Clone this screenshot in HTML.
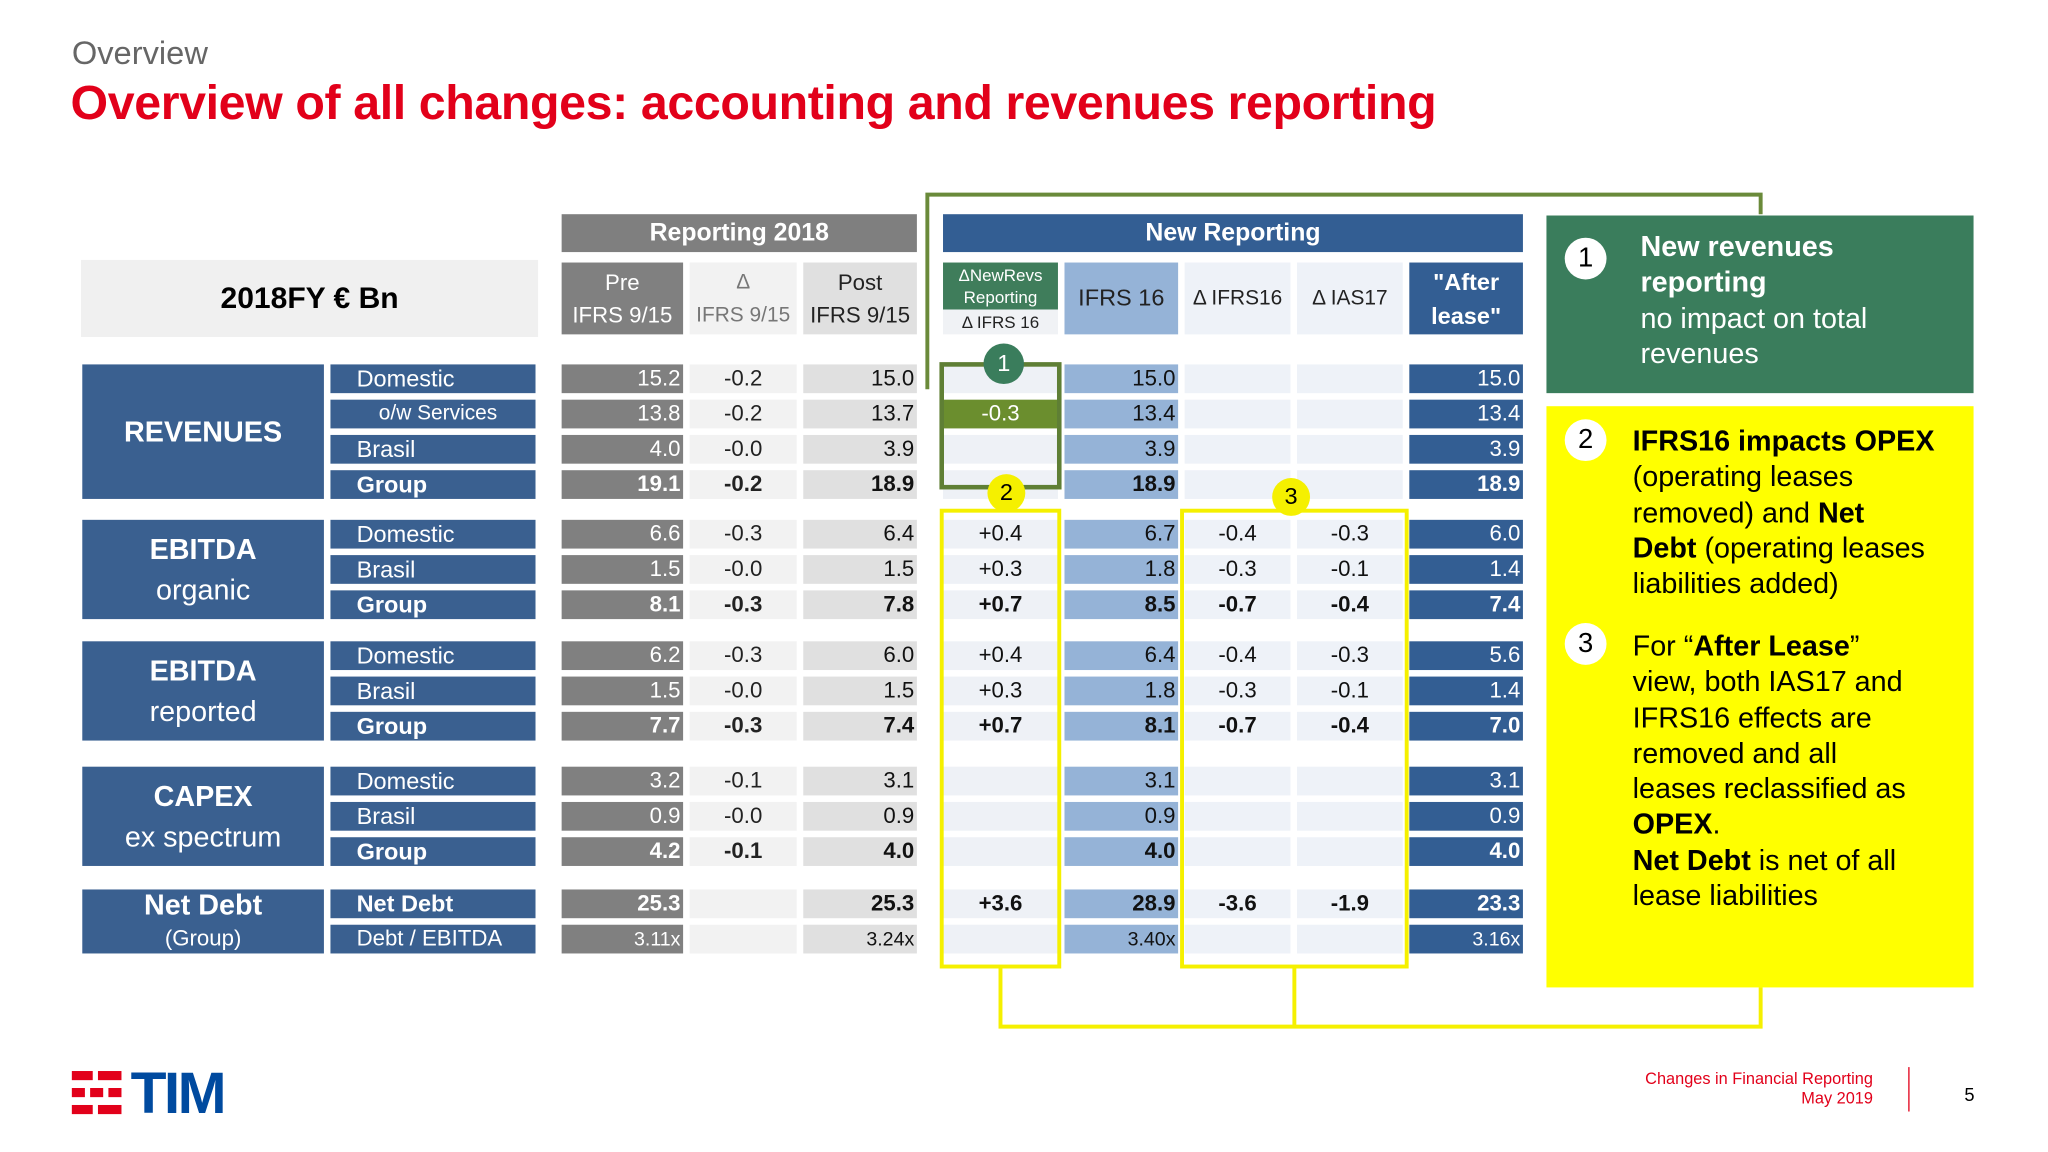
<!DOCTYPE html>
<html><head><meta charset="utf-8">
<style>
html,body{margin:0;padding:0;background:#fff;}
#root{position:relative;width:2048px;height:1152px;overflow:hidden;background:#fff;}
#s{position:absolute;left:0;top:0;width:1568px;height:882px;transform:scale(1.306122);transform-origin:0 0;font-family:"Liberation Sans",sans-serif;}
.a{position:absolute;box-sizing:border-box;}
.c{display:flex;align-items:center;justify-content:center;text-align:center;}
.r{display:flex;align-items:center;justify-content:flex-end;padding-right:2px;}
.l{display:flex;align-items:center;padding-left:20px;}
.circ{position:absolute;border-radius:50%;display:flex;align-items:center;justify-content:center;font-size:18px;}
.ptxt{position:absolute;font-size:22px;line-height:27.3px;color:#fff;}
</style></head><body>
<div id="root"><div id="s">
<div class="a" style="left:55px;top:27px;font-size:25px;color:#666;">Overview</div>
<div class="a" style="left:54px;top:58px;font-size:37px;color:#e2001a;font-weight:bold;letter-spacing:-0.3px;">Overview of all changes: accounting and revenues reporting</div>

<div class="a c" style="left:62px;top:199px;width:350px;height:59px;background:#f0f0f0;font-size:23px;font-weight:bold;">2018FY € Bn</div>
<div class="a c" style="left:430px;top:164px;width:272px;height:29px;background:#7f7f7f;color:#fff;font-size:19px;font-weight:bold;">Reporting 2018</div>
<div class="a c" style="left:722px;top:164px;width:444px;height:29px;background:#335e93;color:#fff;font-size:19px;font-weight:bold;">New Reporting</div>

<div class="a c" style="left:430px;top:201px;width:93px;height:55px;background:#808080;color:#fff;font-size:17px;line-height:25px;">Pre<br>IFRS 9/15</div>
<div class="a c" style="left:528px;top:201px;width:82px;height:55px;background:#f2f2f2;color:#777;font-size:16px;line-height:25px;">Δ<br>IFRS 9/15</div>
<div class="a c" style="left:615px;top:201px;width:87px;height:55px;background:#e0e0e0;color:#222;font-size:17px;line-height:25px;">Post<br>IFRS 9/15</div>
<div class="a c" style="left:722px;top:201px;width:88px;height:36px;background:#3f7d5b;color:#fff;font-size:13px;line-height:17px;">ΔNewRevs<br>Reporting</div>
<div class="a c" style="left:722px;top:237px;width:88px;height:19px;background:#f0f2f5;color:#222;font-size:13px;">Δ IFRS 16</div>
<div class="a c" style="left:815px;top:201px;width:87px;height:55px;background:#95b3d7;color:#222;font-size:18px;">IFRS 16</div>
<div class="a c" style="left:907px;top:201px;width:81px;height:55px;background:#eef2f8;color:#222;font-size:16px;">Δ IFRS16</div>
<div class="a c" style="left:993px;top:201px;width:81px;height:55px;background:#eef2f8;color:#222;font-size:16px;">Δ IAS17</div>
<div class="a c" style="left:1079px;top:201px;width:87px;height:55px;background:#335e93;color:#fff;font-size:18px;font-weight:bold;line-height:26px;">"After<br>lease"</div>

<div id="tbl"></div>

<!-- green outlines -->
<svg class="a" style="left:0;top:0;" width="1568" height="882">
<polyline points="710,298 710,149 1348,149 1348,164" fill="none" stroke="#6a8a3a" stroke-width="3"/>
<rect x="721" y="279" width="90" height="94" fill="none" stroke="#5f7f35" stroke-width="3.5"/>
<rect x="721" y="391" width="90" height="349" fill="none" stroke="#f5f000" stroke-width="3"/>
<rect x="905" y="391" width="172" height="349" fill="none" stroke="#f5f000" stroke-width="3"/>
<polyline points="766,741 766,786 1348,786 1348,756" fill="none" stroke="#f5f000" stroke-width="3"/>
<line x1="991" y1="741" x2="991" y2="786" stroke="#f5f000" stroke-width="3"/>
</svg>
<div class="circ" style="left:753px;top:263px;width:31px;height:31px;background:#3a7d5c;color:#fff;">1</div>
<div class="circ" style="left:756px;top:363px;width:29px;height:29px;background:#f5f000;color:#000;">2</div>
<div class="circ" style="left:974px;top:366px;width:29px;height:29px;background:#f5f000;color:#000;">3</div>

<div class="a" style="left:1184px;top:165px;width:327px;height:136px;background:#3a7d5c;"></div>
<div class="circ" style="left:1198px;top:182px;width:32px;height:32px;background:#fff;color:#000;font-size:21px;">1</div>
<div class="ptxt" style="left:1256px;top:175px;"><b>New revenues<br>reporting</b><br>no impact on total<br>revenues</div>

<div class="a" style="left:1184px;top:311px;width:327px;height:445px;background:#ffff00;"></div>
<div class="circ" style="left:1198px;top:321px;width:32px;height:32px;background:#fff;color:#000;font-size:21px;">2</div>
<div class="ptxt" style="left:1250px;top:324px;color:#000;"><b>IFRS16 impacts OPEX</b><br>(operating leases<br>removed) and <b>Net<br>Debt</b> (operating leases<br>liabilities added)</div>
<div class="circ" style="left:1198px;top:477px;width:32px;height:32px;background:#fff;color:#000;font-size:21px;">3</div>
<div class="ptxt" style="left:1250px;top:481px;color:#000;">For “<b>After Lease</b>”<br>view, both IAS17 and<br>IFRS16 effects are<br>removed and all<br>leases reclassified as<br><b>OPEX</b>.<br><b>Net Debt</b> is net of all<br>lease liabilities</div>

<!-- footer -->
<div class="a" style="left:55px;top:818px;width:130px;height:38px;">
 <div class="a" style="left:0;top:2px;width:16px;height:7px;background:#e2001a;"></div><div class="a" style="left:20px;top:2px;width:18px;height:7px;background:#e2001a;"></div>
 <div class="a" style="left:0;top:15px;width:10px;height:7px;background:#e2001a;"></div><div class="a" style="left:14px;top:15px;width:10px;height:7px;background:#e2001a;"></div><div class="a" style="left:28px;top:15px;width:10px;height:7px;background:#e2001a;"></div>
 <div class="a" style="left:0;top:28px;width:16px;height:7px;background:#e2001a;"></div><div class="a" style="left:20px;top:28px;width:18px;height:7px;background:#e2001a;"></div>
 <div class="a" style="left:45px;top:-7px;font-size:45px;font-weight:bold;color:#004a9f;letter-spacing:-2px;">TIM</div>
</div>
<div class="a" style="left:1200px;top:819px;width:234px;text-align:right;font-size:12.5px;line-height:15px;color:#e2001a;">Changes in Financial Reporting<br>May 2019</div>
<div class="a" style="left:1461px;top:817px;width:1px;height:34px;background:#e2001a;"></div>
<div class="a" style="left:1504px;top:830px;font-size:14px;">5</div>
</div></div>
<script>
const groups=[["REVENUES",""],["EBITDA","organic"],["EBITDA","reported"],["CAPEX","ex spectrum"],["Net Debt","(Group)"]];
const rowLabels=[["Domestic","o/w Services","Brasil","Group"],["Domestic","Brasil","Group"],["Domestic","Brasil","Group"],["Domestic","Brasil","Group"],["Net Debt","Debt / EBITDA"]];
const preVals=[["15.2","13.8","4.0","19.1"],["6.6","1.5","8.1"],["6.2","1.5","7.7"],["3.2","0.9","4.2"],["25.3","3.11x"]];
const deltaVals=[["-0.2","-0.2","-0.0","-0.2"],["-0.3","-0.0","-0.3"],["-0.3","-0.0","-0.3"],["-0.1","-0.0","-0.1"],["",""]];
const postVals=[["15.0","13.7","3.9","18.9"],["6.4","1.5","7.8"],["6.0","1.5","7.4"],["3.1","0.9","4.0"],["25.3","3.24x"]];
const newRevVals=[["","-0.3","",""],["+0.4","+0.3","+0.7"],["+0.4","+0.3","+0.7"],["","",""],["+3.6",""]];
const ifrs16Vals=[["15.0","13.4","3.9","18.9"],["6.7","1.8","8.5"],["6.4","1.8","8.1"],["3.1","0.9","4.0"],["28.9","3.40x"]];
const dIfrs16Vals=[["","","",""],["-0.4","-0.3","-0.7"],["-0.4","-0.3","-0.7"],["","",""],["-3.6",""]];
const dIas17Vals=[["","","",""],["-0.3","-0.1","-0.4"],["-0.3","-0.1","-0.4"],["","",""],["-1.9",""]];
const afterVals=[["15.0","13.4","3.9","18.9"],["6.0","1.4","7.4"],["5.6","1.4","7.0"],["3.1","0.9","4.0"],["23.3","3.16x"]];
const groupTops=[279,398,491,587,681];
const cols=[
 {v:preVals,x:430,w:93,bg:"#808080",fg:"#fff",al:"r",n:"pre"},
 {v:deltaVals,x:528,w:82,bg:"#f2f2f2",fg:"#222",al:"c",n:"delta-ifrs915"},
 {v:postVals,x:615,w:87,bg:"#e0e0e0",fg:"#111",al:"r",n:"post"},
 {v:newRevVals,x:722,w:88,bg:"#eef1f6",fg:"#111",al:"c",n:"newrevs"},
 {v:ifrs16Vals,x:815,w:87,bg:"#95b3d7",fg:"#111",al:"r",n:"ifrs16"},
 {v:dIfrs16Vals,x:907,w:81,bg:"#eef2f8",fg:"#111",al:"c",n:"delta-ifrs16"},
 {v:dIas17Vals,x:993,w:81,bg:"#eef2f8",fg:"#111",al:"c",n:"delta-ias17"},
 {v:afterVals,x:1079,w:87,bg:"#335e93",fg:"#fff",al:"r",n:"after-lease"}];
const tbl=document.getElementById('tbl');
function box(x,y,w,h,cls,bg,fg,txt,fs,fw){const d=document.createElement('div');d.className='a '+cls;d.style.cssText=`left:${x}px;top:${y}px;width:${w}px;height:${h}px;background:${bg};color:${fg};font-size:${fs}px;font-weight:${fw};`;d.textContent=txt;tbl.appendChild(d);return d;}
const RH=22,RS=27;
groups.forEach((g,gi)=>{
 const n=rowLabels[gi].length,top=groupTops[gi],h=(n-1)*RS+RH;
 const gb=box(63,top,185,h,'c','#3a6090','#fff','',22,'normal');
 
 
 gb.style.flexDirection='column';gb.style.lineHeight=gi==4?'26px':'31px';
 const b=document.createElement('b');b.textContent=g[0];gb.appendChild(b);
 if(g[1]){const s=document.createElement('span');s.textContent=g[1];if(gi==4)s.style.fontSize='17px';gb.appendChild(s);}
 rowLabels[gi].forEach((lab,ri)=>{
  const y=top+ri*RS;const bold=(lab=="Group"||lab=="Net Debt");
  const rl=box(253,y,157,RH,'l','#3a6090','#fff',lab,18,bold?'bold':'normal');
  
  
  if(lab=="o/w Services"){rl.style.paddingLeft='37px';rl.style.fontSize='16px';}
  if(lab=="Debt / EBITDA")rl.style.fontSize='17px';
  cols.forEach(c=>{
   let bg=c.bg,fg=c.fg;const val=c.v[gi][ri];
   if(c.n=="newrevs"&&val=="-0.3"){bg="#6b8e2e";fg="#fff";}
   const small=val.endsWith('x');
   const cell=box(c.x,y,c.w,RH,c.al,bg,fg,val,small?15:17,bold&&!small?'bold':'normal');
   
   
  });
 });
});
</script>
</body></html>
